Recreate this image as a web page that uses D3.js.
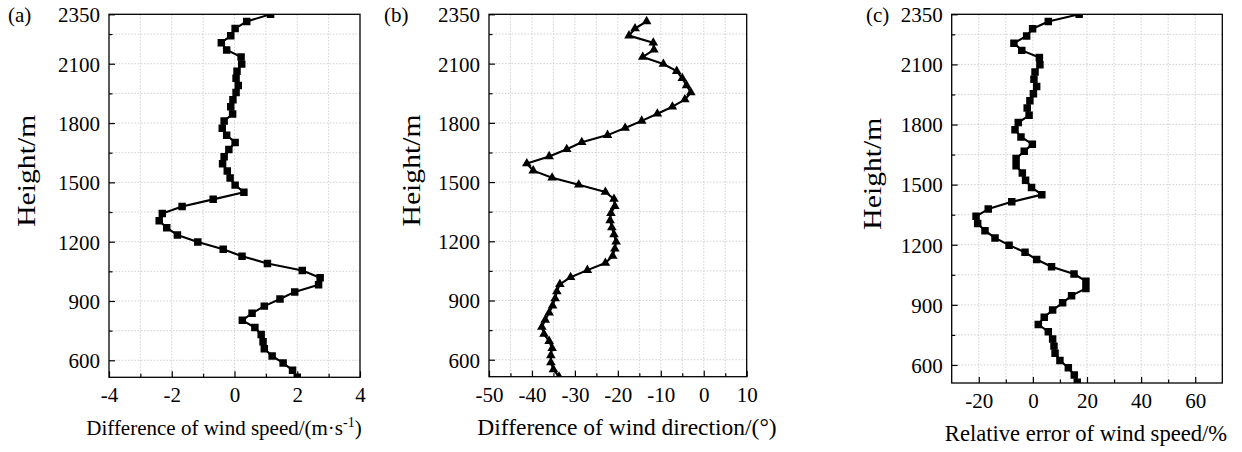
<!DOCTYPE html>
<html>
<head>
<meta charset="utf-8">
<script src="https://cdn.jsdelivr.net/npm/d3@7"></script>
<style>
  html, body { margin: 0; padding: 0; background: #fff; }
  svg { display: block; }
  svg text { font-family: "Liberation Serif", "Times New Roman", serif; fill: #000; }
</style>
</head>
<body>
<svg id="chart" width="1242" height="452"></svg>
<script>
// Sounding levels (m), from top to bottom
const heights = [2350, 2314, 2278, 2242, 2206, 2170, 2134, 2098, 2062, 2026,
  1990, 1954, 1918, 1882, 1846, 1810, 1774, 1738, 1702, 1666,
  1630, 1594, 1558, 1522, 1486, 1450, 1414, 1378, 1342, 1306,
  1270, 1234, 1198, 1162, 1126, 1090, 1054, 1018, 982, 946,
  910, 874, 838, 802, 766, 730, 694, 658, 622, 586, 550, 514];

// Levels with a wind direction value (no value at the top level)
const dirHeights = [2314, 2278, 2242, 2206, 2170, 2134, 2098, 2062, 2026,
  1990, 1954, 1918, 1882, 1846, 1810, 1774, 1738, 1702, 1666,
  1630, 1594, 1558, 1522, 1486, 1450, 1414, 1378, 1342, 1306,
  1270, 1234, 1198, 1162, 1126, 1090, 1054, 1018, 982, 946,
  910, 874, 838, 802, 766, 730, 694, 658, 622, 586, 550, 514];

// (a) difference of wind speed, m/s
const speedDiff = [1.15, 0.39, 0.02, -0.12, -0.42, -0.25, 0.21, 0.23, 0.08, 0.05,
  0.12, 0.05, -0.05, -0.12, -0.06, -0.33, -0.39, -0.25, 0.02, -0.18,
  -0.33, -0.38, -0.23, -0.14, 0.02, 0.30, -0.68, -1.67, -2.30, -2.40,
  -2.16, -1.82, -1.17, -0.36, 0.24, 1.05, 2.16, 2.73, 2.68, 1.92,
  1.45, 0.95, 0.56, 0.25, 0.65, 0.85, 0.91, 0.95, 1.20, 1.55, 1.85, 2.00];

// (b) difference of wind direction, degrees
const dirDiff = [-13.3, -16.0, -17.4, -11.75, -11.6, -14.2, -9.4, -6.3, -5.0, -4.0,
  -3.0, -4.4, -7.3, -10.8, -14.45, -18.3, -22.4, -28.4, -31.9, -36.0,
  -41.2, -39.7, -35.3, -29.1, -22.9, -20.9, -20.7, -21.6, -21.8, -21.4,
  -20.9, -20.4, -20.7, -21.2, -22.9, -27.1, -31.0, -33.5, -34.2, -34.6,
  -35.2, -36.0, -36.9, -37.7, -37.2, -36.0, -35.3, -35.6, -35.6, -35.0, -33.7];

// (c) relative error of wind speed, %
const relErr = [17.1, 5.7, -0.1, -2.3, -7.0, -4.1, 2.4, 2.6, 0.8, 0.4,
  1.4, 0.2, -1.1, -2.1, -1.4, -5.4, -6.6, -4.4, -0.2, -3.2,
  -6.2, -6.2, -3.9, -2.7, -0.5, 3.3, -7.8, -16.5, -21.0, -20.4,
  -17.7, -14.0, -8.8, -2.9, 1.4, 6.9, 15.2, 19.6, 19.6, 14.3,
  11.0, 7.3, 4.2, 2.0, 5.7, 7.3, 7.8, 8.2, 10.0, 13.1, 15.3, 16.4];

// Axis ticks
const yTicks = [600, 900, 1200, 1500, 1800, 2100, 2350];
const yMinor = [750, 1050, 1350, 1650, 1950, 2250];
const yGrid = [600, 750, 900, 1050, 1200, 1350, 1500, 1650, 1800, 1950, 2100, 2250];

const xTicksA = [-4, -2, 0, 2, 4];
const xMinorA = [-3, -1, 1, 3];
const xGridA = [-3, -2, -1, 0, 1, 2, 3];

const xTicksB = [-50, -40, -30, -20, -10, 0, 10];
const xMinorB = [-45, -35, -25, -15, -5, 5];
const xGridB = [-45, -40, -35, -30, -25, -20, -15, -10, -5, 0, 5];

const xTicksC = [-20, 0, 20, 40, 60];
const xMinorC = [-10, 10, 30, 50];
const xGridC = [-20, -10, 0, 10, 20, 30, 40, 50, 60];

const SERIF = '"Liberation Serif", "Times New Roman", serif';
const svg = d3.select("#chart");

const panels = [
  {
    id: "a", tag: "(a)", tagX: 8,
    left: 109, right: 360, top: 14.3, bottom: 377.3,
    xDomain: [-4, 4], yDomain: [514, 2350],
    xTicks: xTicksA, xMinor: xMinorA, xGrid: xGridA,
    ys: heights, xs: speedDiff, marker: d3.symbolSquare, markerSize: 56,
    ylabX: 27, titleX: 224, titleSize: 21, title: "a"
  },
  {
    id: "b", tag: "(b)", tagX: 384,
    left: 489, right: 746.7, top: 14.3, bottom: 376.7,
    xDomain: [-50, 10], yDomain: [514, 2350],
    xTicks: xTicksB, xMinor: xMinorB, xGrid: xGridB,
    ys: dirHeights, xs: dirDiff, marker: d3.symbolTriangle, markerSize: 40,
    ylabX: 412, titleX: 627, titleSize: 23.5, title: "b"
  },
  {
    id: "c", tag: "(c)", tagX: 866,
    left: 951.7, right: 1222.3, top: 14.3, bottom: 383,
    xDomain: [-30, 70], yDomain: [510, 2350],
    xTicks: xTicksC, xMinor: xMinorC, xGrid: xGridC,
    ys: heights, xs: relErr, marker: d3.symbolSquare, markerSize: 56,
    ylabX: 873, titleX: 1086, titleSize: 22.6, title: "c"
  }
];

panels.forEach(p => {
  const x = d3.scaleLinear().domain(p.xDomain).range([p.left, p.right]);
  const y = d3.scaleLinear().domain(p.yDomain).range([p.bottom, p.top]);
  const g = svg.append("g").attr("class", "panel-" + p.id);

  // dotted grid
  const grid = g.append("g").attr("class", "grid")
    .attr("stroke", "#c8c8c8").attr("stroke-width", 0.8)
    .attr("stroke-dasharray", "1.6,1.6");
  grid.selectAll("line.gx").data(p.xGrid).join("line").attr("class", "gx")
    .attr("x1", d => x(d)).attr("x2", d => x(d))
    .attr("y1", p.top).attr("y2", p.bottom);
  grid.selectAll("line.gy").data(yGrid).join("line").attr("class", "gy")
    .attr("x1", p.left).attr("x2", p.right)
    .attr("y1", d => y(d)).attr("y2", d => y(d));

  // data line + markers, clipped to the frame
  const clipId = "clip-" + p.id;
  g.append("clipPath").attr("id", clipId).append("rect")
    .attr("x", p.left).attr("y", p.top)
    .attr("width", p.right - p.left).attr("height", p.bottom - p.top);
  const pts = p.xs.map((v, i) => [v, p.ys[i]]);
  const data = g.append("g").attr("clip-path", `url(#${clipId})`);
  data.append("path")
    .datum(pts)
    .attr("fill", "none").attr("stroke", "#000").attr("stroke-width", 2.1)
    .attr("stroke-linejoin", "round")
    .attr("d", d3.line().x(d => x(d[0])).y(d => y(d[1])));
  const sym = d3.symbol().type(p.marker).size(p.markerSize);
  data.selectAll("path.mk").data(pts).join("path").attr("class", "mk")
    .attr("transform", d => `translate(${x(d[0])},${y(d[1])})`)
    .attr("d", sym).attr("fill", "#000");

  // axes with inward ticks
  const fmt = d => String(d);
  const axB = g.append("g").attr("transform", `translate(0,${p.bottom})`)
    .call(d3.axisBottom(x).tickValues(p.xTicks).tickSize(-6).tickPadding(9).tickFormat(fmt));
  const axBm = g.append("g").attr("transform", `translate(0,${p.bottom})`)
    .call(d3.axisBottom(x).tickValues(p.xMinor).tickSize(-3.5).tickFormat(""));
  const axL = g.append("g").attr("transform", `translate(${p.left},0)`)
    .call(d3.axisLeft(y).tickValues(yTicks).tickSize(-6).tickPadding(9).tickFormat(fmt));
  const axLm = g.append("g").attr("transform", `translate(${p.left},0)`)
    .call(d3.axisLeft(y).tickValues(yMinor).tickSize(-3.5).tickFormat(""));
  [axB, axBm, axL, axLm].forEach(a => {
    a.attr("font-family", null).attr("font-size", null);
    a.select(".domain").remove();
    a.selectAll(".tick line").attr("stroke", "#000").attr("stroke-width", 1.2);
  });
  axB.selectAll(".tick text")
    .style("font-family", SERIF).style("font-size", "21px")
    .attr("dy", null).attr("y", 25);
  axL.selectAll(".tick text")
    .style("font-family", SERIF).style("font-size", "21px")
    .attr("dy", "0.35em");

  // frame
  g.append("rect")
    .attr("x", p.left).attr("y", p.top)
    .attr("width", p.right - p.left).attr("height", p.bottom - p.top)
    .attr("fill", "none").attr("stroke", "#000").attr("stroke-width", 1.3);

  // panel tag
  g.append("text").attr("x", p.tagX).attr("y", p.top + 8)
    .style("font-family", SERIF).style("font-size", "21px").text(p.tag);

  // y title
  const ymid = (p.top + p.bottom) / 2 - 25;
  g.append("text")
    .attr("transform", `translate(${p.ylabX + 8},${ymid}) rotate(-90)`)
    .attr("text-anchor", "middle")
    .style("font-family", SERIF).style("font-size", "25px")
    .attr("textLength", 112).attr("lengthAdjust", "spacingAndGlyphs")
    .text("Height/m");

  // x title
  const tt = g.append("text")
    .attr("x", p.titleX).attr("y", p.bottom + 58)
    .attr("text-anchor", "middle")
    .style("font-family", SERIF).style("font-size", p.titleSize + "px");
  if (p.title === "a") {
    tt.append("tspan").text("Difference of wind speed/(m\u00b7s");
    tt.append("tspan").attr("dy", -8).style("font-size", "14px").text("-1");
    tt.append("tspan").attr("dy", 8).text(")");
  } else if (p.title === "b") {
    tt.text("Difference of wind direction/(\u00b0)");
  } else {
    tt.text("Relative error of wind speed/%");
  }
});
</script>
</body>
</html>
